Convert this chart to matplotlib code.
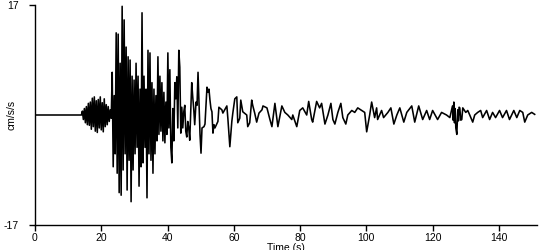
import matplotlib
matplotlib.use("Agg")
import matplotlib.pyplot as plt

# ---- data ----
quiet_t = [0.0, 14.0]
quiet_v = [0.0, 0.0]

pwave_t = [14.3, 14.6, 14.9, 15.2, 15.5, 15.8, 16.1, 16.4, 16.7, 17.0, 17.3, 17.6,
           17.9, 18.2, 18.5, 18.8, 19.1, 19.4, 19.7, 20.0, 20.3, 20.6, 20.9, 21.2,
           21.5, 21.8, 22.1, 22.4, 22.7, 23.0]
pwave_v = [0.6, -0.7, 1.0, -1.2, 1.3, -1.5, 1.8, -1.6, 2.0, -2.2, 2.6, -1.8,
           2.8, -2.5, 2.2, -2.7, 2.4, -2.0, 2.8, -2.3, 1.9, -2.6, 2.5, -1.8,
           1.6, -1.5, 1.3, -1.0, 0.8, -0.5]

swave_t = [23.3, 23.6, 23.9, 24.2, 24.5, 24.8, 25.1, 25.4, 25.7, 26.0, 26.3, 26.6,
           26.9, 27.2, 27.5, 27.8, 28.1, 28.4, 28.7, 29.0, 29.3, 29.6, 29.9, 30.2,
           30.5, 30.8, 31.1, 31.4, 31.7, 32.0, 32.3, 32.6, 32.9, 33.2, 33.5, 33.8,
           34.1, 34.4, 34.7, 35.0, 35.3, 35.6, 35.9, 36.2, 36.5, 36.8, 37.1, 37.4,
           37.7, 38.0, 38.3, 38.6, 38.9, 39.2, 39.5, 39.8, 40.1, 40.4, 40.7, 41.0,
           41.3, 41.6, 41.9, 42.2, 42.5, 42.8, 43.1, 43.4, 43.7, 44.0, 44.3, 44.6,
           44.9, 45.2, 45.5, 45.8, 46.1, 46.4, 46.7, 47.0, 47.3, 47.6, 47.9, 48.2,
           48.6, 48.9, 49.2, 49.5, 49.8, 50.1, 50.4, 51.0, 51.3, 51.9, 52.2, 52.5,
           52.8, 53.1, 53.4, 53.7, 54.0, 54.3, 55.2, 55.5, 56.4, 56.7, 57.9, 58.2,
           58.8, 59.4, 59.7, 60.3, 60.9, 61.2, 61.8, 62.1, 62.7, 63.9, 64.2, 64.8,
           65.4, 65.7, 66.3, 66.9, 67.6, 68.5]
swave_v = [6.6, -8.0, 3.0, -6.0, 12.7, -9.0, 12.5, -12.0, 8.0, -12.4, 16.8, -8.5,
           14.7, -6.0, 10.5, -11.6, 9.0, -7.0, 8.5, -13.4, 6.0, -8.5, 5.4, -6.0,
           8.0, -5.0, 6.0, -11.0, 4.0, -8.0, 15.8, -7.4, 6.0, -5.0, 4.0, -12.8,
           10.0, -6.0, 9.6, -7.0, 5.0, -9.0, 4.0, -6.0, 3.0, -4.0, 9.0, -3.0,
           6.0, -2.5, 5.0, -4.0, 3.5, -4.3, 2.0, -3.0, 9.6, -2.0, 7.0, -5.0,
           -7.4, 1.0, -4.0, 5.0, 2.5, 5.9, -2.0, 10.0, 7.4, -2.8, 1.2, -2.0,
           0.5, 1.5, -2.5, -3.4, -1.0, -2.0, -3.9, 0.5, 5.0, 2.8, 1.0, -1.5,
           2.0, 1.5, 6.6, 2.0, -3.0, -5.9, -2.0, -1.8, -1.4, 4.3, 3.5, 4.0,
           2.3, 1.0, 0.5, -2.8, -1.5, -2.0, -1.0, 1.2, 0.8, 0.3, 1.4, -0.5,
           -4.9, -1.0, 0.3, 2.5, 2.8, -1.2, -0.5, 2.3, 0.5, 0.0, -1.8, -1.2,
           2.3, 1.5, 0.3, -1.1, 0.3, 0.8]

coda_t = [68.8, 70.0, 70.9, 71.5, 72.4, 73.3, 74.5, 75.4, 76.3, 77.5, 77.8, 79.0,
          79.9, 80.8, 82.0, 82.6, 83.5, 83.8, 85.0, 85.9, 86.5, 87.5, 88.4, 89.3,
          89.9, 90.5, 91.4, 92.3, 92.9, 93.8, 94.4, 95.6, 96.5, 97.4, 98.6, 99.5,
          100.1, 101.0, 101.6, 102.5, 103.1, 103.4, 104.6, 105.2, 106.5, 107.4, 108.3, 109.2,
          110.1, 111.3, 112.2, 113.7, 114.6, 115.8, 117.0, 118.2, 119.1, 120.0, 121.5, 122.7,
          124.2, 125.2, 126.0, 126.2, 126.4, 126.6, 126.8, 127.0, 127.3, 127.6, 127.8, 128.0,
          128.2, 128.5, 128.8, 129.1, 130.0, 130.6, 131.2, 132.1, 132.7, 133.6, 134.5, 135.1,
          136.3, 137.2, 138.1, 139.0, 140.2, 141.1, 142.3, 143.2, 144.5, 145.4, 146.3, 147.2,
          147.8, 148.7, 149.9, 150.8]
coda_v = [1.4, 1.1, -0.7, -1.8, 1.8, -1.8, 1.4, 0.4, 0.0, -0.7, 0.0, -1.8,
          0.7, 1.1, 0.0, 2.1, -0.7, -1.1, 2.1, 1.1, 1.8, -1.4, 0.0, 1.8,
          -0.7, -1.4, 0.4, 1.8, -0.4, -1.4, 0.0, 0.7, 0.4, 1.1, 0.7, 0.4,
          -2.6, 0.0, 2.0, -0.4, 1.1, -0.7, 0.7, -0.4, 0.4, 1.1, -1.4, 0.0,
          1.1, -1.1, 0.4, 1.4, -1.1, 1.4, -0.7, 0.7, -0.7, 0.7, -0.7, 0.4,
          0.0, -0.4, 1.4, -0.8, 2.0, -1.2, 1.0, -2.0, -3.0, 0.8, -0.9, 1.2,
          1.1, -0.8, -0.7, 1.1, 0.4, 0.7, 0.0, -1.1, 0.0, 0.4, 0.7, -0.4,
          0.7, -0.7, 0.4, -0.4, 0.7, -0.4, 0.7, -0.7, 0.7, -0.4, 0.7, 0.4,
          -1.1, 0.0, 0.4, 0.1]

time = quiet_t + pwave_t + swave_t + coda_t
accel = quiet_v + pwave_v + swave_v + coda_v

x_ticks = [0, 20, 40, 60, 80, 100, 120, 140]
y_ticks = [-17, 17]

# ---- figure ----
plt.rcParams['font.family'] = ['Liberation Sans', 'DejaVu Sans']
fig = plt.figure(figsize=(5.5, 2.5), dpi=100)
ax = fig.add_axes([35/550, 25/250, (537-35)/550, 220/250])

ax.plot(time, accel, color='black', lw=1.15)

ax.set_xlim(0, 151.5)
ax.set_ylim(-17, 17)
ax.set_xticks(x_ticks)
ax.set_xticklabels([str(v) for v in x_ticks])
ax.set_yticks(y_ticks)
ax.set_yticklabels([str(v) for v in y_ticks])

for s in ['top', 'right']:
    ax.spines[s].set_visible(False)
for s in ['left', 'bottom']:
    ax.spines[s].set_linewidth(1.0)
    ax.spines[s].set_color('black')

ax.tick_params(axis='x', direction='out', length=4, width=1, pad=2, labelsize=7.5)
ax.tick_params(axis='y', direction='out', length=4, width=1, pad=8, labelsize=7.5)

ax.set_xlabel('Time (s)', fontsize=7.5, labelpad=0)
ax.set_ylabel('cm/s/s', fontsize=7.5)
ax.yaxis.set_label_coords(-18/502, 0.5)

fig.savefig('out.png', dpi=100)
